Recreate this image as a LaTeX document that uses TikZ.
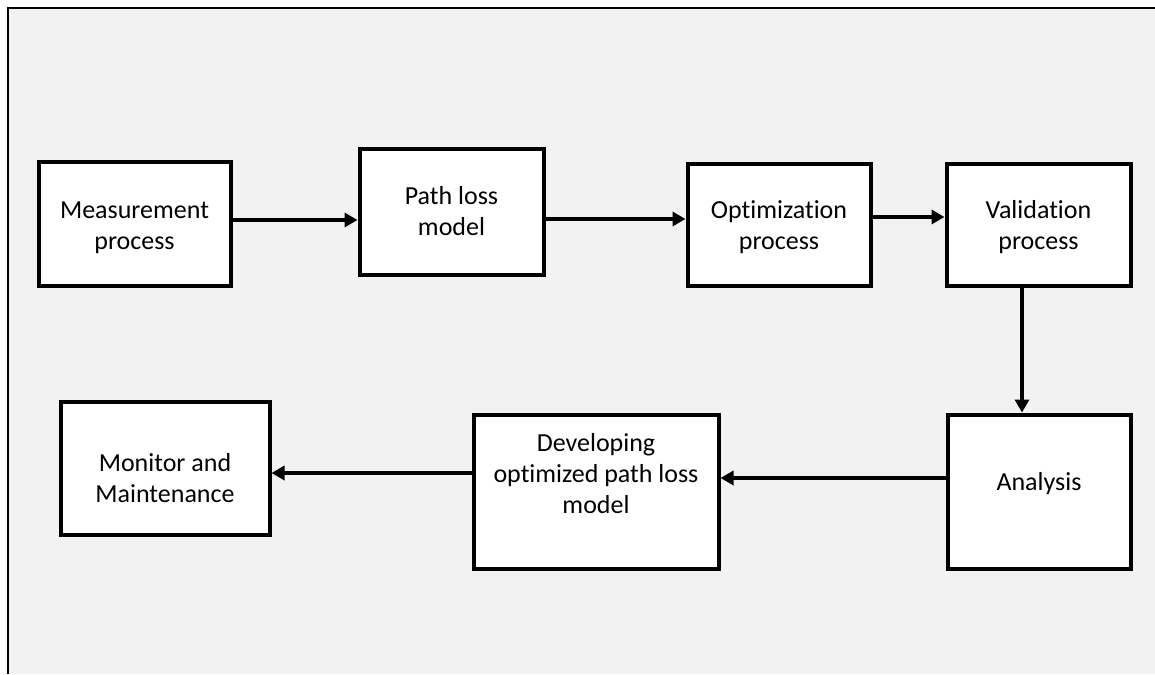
\documentclass[tikz,border=0pt]{standalone}
\usepackage{fontspec}
\setmainfont{Carlito}[Ligatures=CommonOff]
\usetikzlibrary{arrows.meta}
\begin{document}
\begin{tikzpicture}[x=1pt,y=-1pt,
  box/.style={draw=black,line width=4pt,fill=white,inner sep=0pt},
  txt/.style={align=center,inner sep=0pt,font=\fontsize{26}{31}\selectfont},
  arr/.style={line width=4pt,-{Triangle[length=13pt,width=14pt]}}]
\useasboundingbox (0,0) rectangle (1155,674);
\fill[white] (0,0) rectangle (1155,674);
\fill[fill={rgb,255:red,242;green,242;blue,242}] (8,8) rectangle (1155,674);
\draw[line width=2.5pt] (8,674) -- (8,8) -- (1155,8);
\node[box,minimum width=192pt,minimum height=124pt,
  label={[txt,yshift=-4pt]center:Measurement\\process}] (meas) at (134.5,223.5) {};
\node[box,minimum width=184pt,minimum height=126pt,
  label={[txt,yshift=0pt]center:Path loss\\model}] (path) at (451.5,211.5) {};
\node[box,minimum width=183pt,minimum height=122pt,
  label={[txt,yshift=-3pt]center:Optimization\\process}] (opt) at (779,224.5) {};
\node[box,minimum width=184pt,minimum height=122pt,
  label={[txt,yshift=-3pt]center:Validation\\process}] (val) at (1038.5,224.5) {};
\node[box,minimum width=183pt,minimum height=154pt,
  label={[txt,yshift=8pt]center:Analysis}] (ana) at (1039,491.5) {};
\node[box,minimum width=245pt,minimum height=154pt,
  label={[txt,yshift=18pt]center:Developing\\optimized path loss\\model}] (dev) at (596,491.5) {};
\node[box,minimum width=209pt,minimum height=133pt,
  label={[txt,yshift=-10pt]center:Monitor and\\Maintenance}] (mon) at (165,468) {};
\coordinate (r1) at (0,220);
\coordinate (r2) at (0,219);
\coordinate (r3) at (0,217);
\coordinate (c4) at (1022,0);
\coordinate (r5) at (0,478);
\coordinate (r6) at (0,473);
\draw[arr] (meas.east |- r1) -- (path.west |- r1);
\draw[arr] (path.east |- r2) -- (opt.west |- r2);
\draw[arr] (opt.east |- r3) -- (val.west |- r3);
\draw[arr] (val.south -| c4) -- (ana.north -| c4);
\draw[arr] (ana.west |- r5) -- (dev.east |- r5);
\draw[arr] (dev.west |- r6) -- (mon.east |- r6);
\end{tikzpicture}
\end{document}
